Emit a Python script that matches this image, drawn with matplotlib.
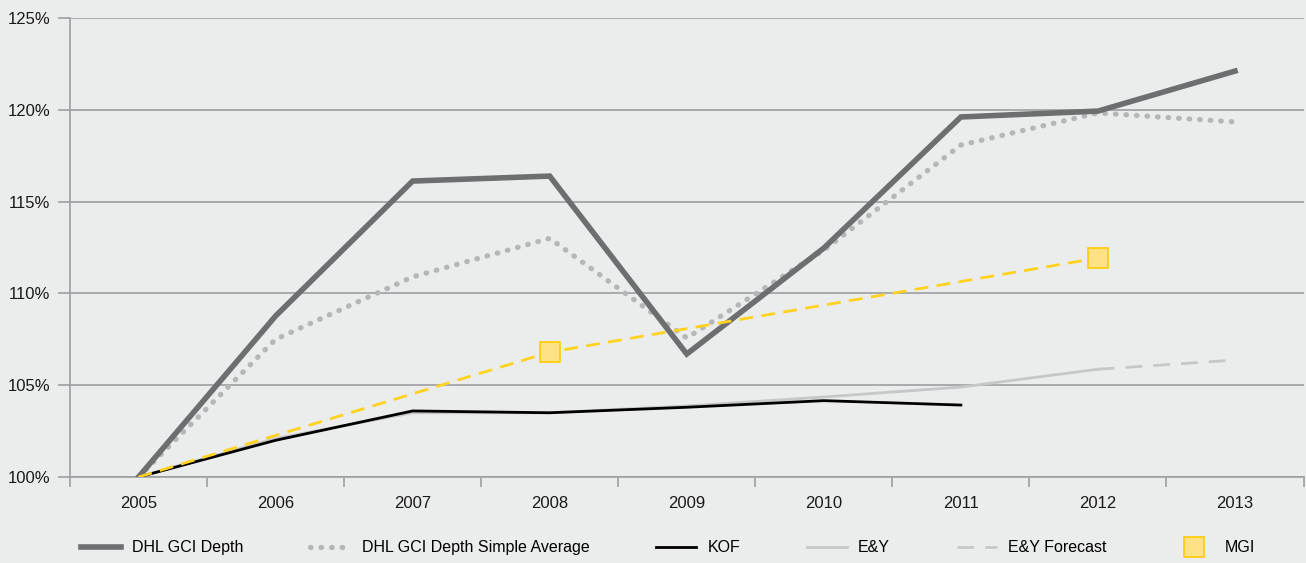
import matplotlib.pyplot as plt
from matplotlib.ticker import FixedLocator, FuncFormatter
from matplotlib.lines import Line2D

plt.rcParams['font.family'] = ['Liberation Sans', 'DejaVu Sans']

years = ['2005', '2006', '2007', '2008', '2009', '2010', '2011', '2012', '2013']
gci_depth = [100, 108.77, 116.12, 116.39, 106.70, 112.47, 119.61, 119.93, 122.11]
gci_simple = [100, 107.5, 110.9, 113.0, 107.57, 112.36, 118.08, 119.83, 119.34]
kof = [100, 102.0, 103.6, 103.5, 103.8, 104.16, 103.92]
ey = [100, 102.1, 103.5, 103.5, 103.87, 104.36, 104.9, 105.87]
ey_forecast = [105.87, 106.37]
mgi_idx = [0, 3, 7]
mgi = [100, 106.8, 111.93]

bg = '#ebecec'
grid = '#9d9fa2'

fig = plt.figure(figsize=(13.06, 5.63), dpi=100, facecolor=bg)
ax = fig.add_axes([0.0536, 0.1527, 0.9445, 0.8153], facecolor=bg)

x = list(range(len(years)))
ax.plot(x, gci_depth, color='#6d6e70', lw=4, solid_joinstyle='miter', zorder=5)
ax.plot(x, gci_simple, color='#b5b6b7', lw=3.8, ls=(0, (0.1, 1.9)),
        dash_capstyle='round', zorder=4)
ax.plot(x[:len(ey)], ey, color='#c6c7c8', lw=2, zorder=3)
ax.plot([7, 8], ey_forecast, color='#c6c7c8', lw=2, ls=(0, (6, 4)), zorder=3)
ax.plot(x[:len(kof)], kof, color='#000000', lw=2, zorder=4)
ax.plot(mgi_idx, mgi, color='#ffd21f', lw=2, ls=(0, (5, 3)), zorder=6)
ax.plot(mgi_idx[1:], mgi[1:], ls='none', marker='s', ms=14,
        mfc='#ffe285', mec='#ffcc00', mew=1.2, zorder=7)

ax.set_xlim(-0.5, 8.5)
ax.set_ylim(100, 125)
ax.set_xticks(x)
ax.set_xticklabels(years)
ax.xaxis.set_minor_locator(FixedLocator([i - 0.5 for i in range(10)]))
ax.tick_params(axis='x', which='major', length=0, pad=14, labelsize=12, colors='#1a1a1a')
ax.tick_params(axis='x', which='minor', length=7, color=grid, width=1.2)
ax.set_yticks([100, 105, 110, 115, 120, 125])
ax.yaxis.set_major_formatter(FuncFormatter(lambda v, p: '%d%%' % v))
ax.tick_params(axis='y', length=9, color=grid, width=1.2, labelsize=12,
               labelcolor='#1a1a1a', pad=5)
ax.grid(axis='y', color=grid, lw=1.2)
ax.set_axisbelow(True)
for s in ['top', 'right']:
    ax.spines[s].set_visible(False)
for s in ['left', 'bottom']:
    ax.spines[s].set_color(grid)
    ax.spines[s].set_linewidth(1.2)

handles = [
    Line2D([], [], color='#6d6e70', lw=4),
    Line2D([], [], color='#b5b6b7', lw=3.8, ls=(0, (0.1, 1.9)), dash_capstyle='round'),
    Line2D([], [], color='#000000', lw=2),
    Line2D([], [], color='#c6c7c8', lw=2),
    Line2D([], [], color='#c6c7c8', lw=2, ls=(0, (6, 4))),
    Line2D([], [], ls='none', marker='s', ms=14, mfc='#ffe285', mec='#ffcc00', mew=1.2),
]
labels = ['DHL GCI Depth', 'DHL GCI Depth Simple Average', 'KOF', 'E&Y',
          'E&Y Forecast', 'MGI']
fig.legend(handles, labels, loc='center left', bbox_to_anchor=(0.062, 0.027, 0.899, 0.0),
           ncol=6, mode='expand', frameon=False, fontsize=11.5, handlelength=2.5,
           handletextpad=0.7, borderaxespad=0, borderpad=0)

fig.savefig('out.png', dpi=100, facecolor=bg)
